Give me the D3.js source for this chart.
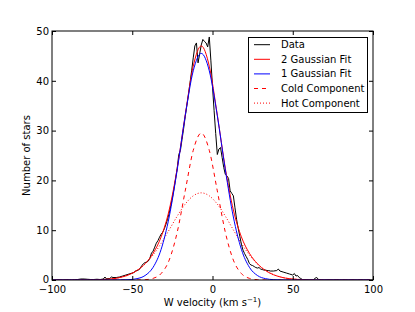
<!DOCTYPE html>
<html>
<head>
<meta charset="utf-8">
<script src="https://cdn.jsdelivr.net/npm/d3@7"></script>
<style>
  html, body { margin: 0; padding: 0; background: #fff; }
  svg { display: block; font-family: "DejaVu Sans", sans-serif; }
</style>
</head>
<body>
<svg id="chart" width="415" height="312"></svg>
<script>
// ---- Data ----
const dataW = [-100,-90,-86,-84,-82,-80,-78,-76,-74,-72,-70,-68,-67,-66,-65,-64,-63,-62,-60,-58,-56,-54,-52,-50,-49,-48,-47,-46,
  -45,-44,-43,-42,-41,-40,-39,-38,-37,-36,-35,-34,-33,-32,-31,-30,-29,-28,-27,-26,-25,-24,-23,-22,-21,-20,
  -19,-18,-17,-16,-15,-14,-13,-12,-11,-10,-9,-8,-7,-6,-5,-4,-3,-2,-1,0,1,2,3,4,5,6,7,8,9,10,
  11,12,13,14,15,16,17,18,19,20,21,22,23,24,25,26,27,28,29,30,31,32,33,34,35,
  36,38,40,41,42,44,46,48,50,51,52,53,54,55,56,58,60,63,64,65,66,67,80,100];
const dataN = [0,0,0,0.1,0.2,0.2,0.15,0.1,0.1,0.15,0.1,0.2,0.6,0.2,0.3,0.3,0.6,0.5,0.5,0.6,0.8,1.0,1.2,1.4,1.5,1.8,1.9,2.0,
  2.4,2.9,3.3,3.5,3.6,3.8,4.4,5.4,5.8,6.6,7.4,7.9,8.6,9.2,9.6,10.3,11.2,12.2,13.4,14.9,16.5,18.3,20.3,22.4,25.2,26.0,
  28.2,30.4,32.8,35.0,37.2,39.6,42.0,44.6,47.0,47.6,43.6,45.4,47.2,48.3,47.9,47.6,46.8,48.8,44.0,38.8,34.0,29.4,25.2,26.3,26.6,24.6,22.6,21.2,20.9,20.4,
  17.9,17.4,16.9,14.5,12.2,10.4,8.8,7.2,6.0,5.3,4.7,4.1,3.3,3.0,2.9,2.7,2.5,2.4,2.5,2.2,2.1,2.0,2.0,1.9,1.9,
  1.8,1.8,1.9,2.2,1.8,1.6,1.4,1.2,1.0,1.3,0.8,0.9,0.5,0.3,0.1,0.05,0,0,0.4,0.5,0.1,0,0,0];

const fitW = [-102,-97,-92,-87,-82,-77,-72,-67,-62,-57,-52,-47,-42,-37,-32,-27,-22,-17,-12,-7,
  -2,3,8,13,18,23,28,33,38,43,48,53,58,63,68,73,78,83,88,93,98];
const twoGauss = [0,0,0,0,0.01,0.02,0.05,0.12,0.26,0.55,1.06,1.92,3.27,5.36,8.66,14.05,22.40,33.13,42.93,47.0,
  42.93,33.13,22.40,14.05,8.66,5.36,3.27,1.92,1.06,0.55,0.26,0.12,0.05,0.02,0.01,0,0,0,0,0,0];
const oneGauss = [0,0,0,0,0,0,0,0,0,0.02,0.07,0.27,0.90,2.55,6.16,12.65,22.1,33.0,42.0,45.5,
  42.0,33.0,22.1,12.65,6.16,2.55,0.90,0.27,0.07,0.02,0,0,0,0,0,0,0,0,0,0,0];
const coldComp = [0,0,0,0,0,0,0,0,0,0,0,0.01,0.06,0.33,1.30,3.99,9.58,17.89,26.03,29.5,
  26.03,17.89,9.58,3.99,1.30,0.33,0.06,0.01,0,0,0,0,0,0,0,0,0,0,0,0,0];
const hotComp = [0,0,0,0,0.01,0.02,0.05,0.12,0.26,0.55,1.06,1.91,3.21,5.03,7.36,10.06,12.82,15.24,16.9,17.5,
  16.9,15.24,12.82,10.06,7.36,5.03,3.21,1.91,1.06,0.55,0.26,0.12,0.05,0.02,0.01,0,0,0,0,0,0];

const xTicks = [-100,-50,0,50,100];
const yTicks = [0,10,20,30,40,50];
const legendLabels = ["Data","2 Gaussian Fit","1 Gaussian Fit","Cold Component","Hot Component"];

// ---- Layout ----
const svg = d3.select("#chart");
const L = 52, R = 373, T = 31, B = 280;
const x = d3.scaleLinear().domain([-100,100]).range([L,R]);
const y = d3.scaleLinear().domain([0,50]).range([B,T]);

svg.append("defs").append("clipPath").attr("id","clip")
  .append("rect").attr("x",L).attr("y",T).attr("width",R-L).attr("height",B-T);

const g = svg.append("g").attr("clip-path","url(#clip)");

function pts(xs, ys){ return xs.map((v,i)=>[v, ys[i]]); }
const lineMono = d3.line().x(d=>x(d[0])).y(d=>y(d[1])).curve(d3.curveMonotoneX);
const lineLin = d3.line().x(d=>x(d[0])).y(d=>y(d[1]));

const styles = [
  {stroke:"#000000", dash:null},
  {stroke:"#ff0000", dash:null},
  {stroke:"#0000ff", dash:null},
  {stroke:"#ff0000", dash:"4,4"},
  {stroke:"#ff0000", dash:"1,2"}
];

g.append("path").attr("d", lineMono(pts(fitW, hotComp))).attr("fill","none")
  .attr("stroke",styles[4].stroke).attr("stroke-width",1).attr("stroke-dasharray",styles[4].dash);
g.append("path").attr("d", lineMono(pts(fitW, coldComp))).attr("fill","none")
  .attr("stroke",styles[3].stroke).attr("stroke-width",1).attr("stroke-dasharray",styles[3].dash);
g.append("path").attr("d", lineLin(pts(dataW, dataN))).attr("fill","none")
  .attr("stroke",styles[0].stroke).attr("stroke-width",1);
g.append("path").attr("d", lineMono(pts(fitW, twoGauss))).attr("fill","none")
  .attr("stroke",styles[1].stroke).attr("stroke-width",1);
g.append("path").attr("d", lineMono(pts(fitW, oneGauss))).attr("fill","none")
  .attr("stroke",styles[2].stroke).attr("stroke-width",1);

// ---- Axes ----
const fmt = d3.format("d");
const axB = svg.append("g").attr("transform",`translate(0,${B})`)
  .call(d3.axisBottom(x).tickValues(xTicks).tickFormat(fmt).tickSizeInner(-4).tickSizeOuter(0).tickPadding(6));
const axL = svg.append("g").attr("transform",`translate(${L},0)`)
  .call(d3.axisLeft(y).tickValues(yTicks).tickFormat(fmt).tickSizeInner(-4).tickSizeOuter(0).tickPadding(3));
const axT = svg.append("g").attr("transform",`translate(0,${T})`)
  .call(d3.axisTop(x).tickValues(xTicks).tickFormat("").tickSizeInner(-4).tickSizeOuter(0));
const axR = svg.append("g").attr("transform",`translate(${R},0)`)
  .call(d3.axisRight(y).tickValues(yTicks).tickFormat("").tickSizeInner(-4).tickSizeOuter(0));
[axB,axL,axT,axR].forEach(a=>{
  a.select(".domain").remove();
  a.selectAll("line").attr("stroke","#000");
  a.selectAll("text").attr("font-size",10).attr("fill","#000").attr("font-family","DejaVu Sans");
});
// keep the "0" y label clear of the "−100" x label
axL.selectAll("text").filter(d=>d===0).attr("dy","0.2em");

svg.append("rect").attr("x",L).attr("y",T).attr("width",R-L).attr("height",B-T)
  .attr("fill","none").attr("stroke","#000").attr("stroke-width",1);

// axis labels
const xl = svg.append("text").attr("x",(L+R)/2).attr("y",306).attr("text-anchor","middle")
  .attr("font-size",10).attr("fill","#000");
xl.append("tspan").text("W velocity (km s");
xl.append("tspan").attr("dy",-4).attr("font-size",7).text("\u22121");
xl.append("tspan").attr("dy",4).text(")");

svg.append("text").attr("transform",`translate(30,${(T+B)/2}) rotate(-90)`)
  .attr("text-anchor","middle").attr("font-size",10).attr("fill","#000").text("Number of stars");

// ---- Legend ----
const lg = svg.append("g");
lg.append("rect").attr("x",248.5).attr("y",37.5).attr("width",119).attr("height",75)
  .attr("fill","#fff").attr("stroke","#000").attr("stroke-width",1);
legendLabels.forEach((lab,i)=>{
  const yy = 44.7 + i*14.6;
  lg.append("line").attr("x1",254).attr("x2",270).attr("y1",yy).attr("y2",yy)
    .attr("stroke",styles[i].stroke).attr("stroke-width",1)
    .attr("stroke-dasharray",styles[i].dash);
  lg.append("text").attr("x",281).attr("y",yy).attr("dy","0.35em")
    .attr("font-size",10).attr("fill","#000").text(lab);
});
</script>
</body>
</html>
